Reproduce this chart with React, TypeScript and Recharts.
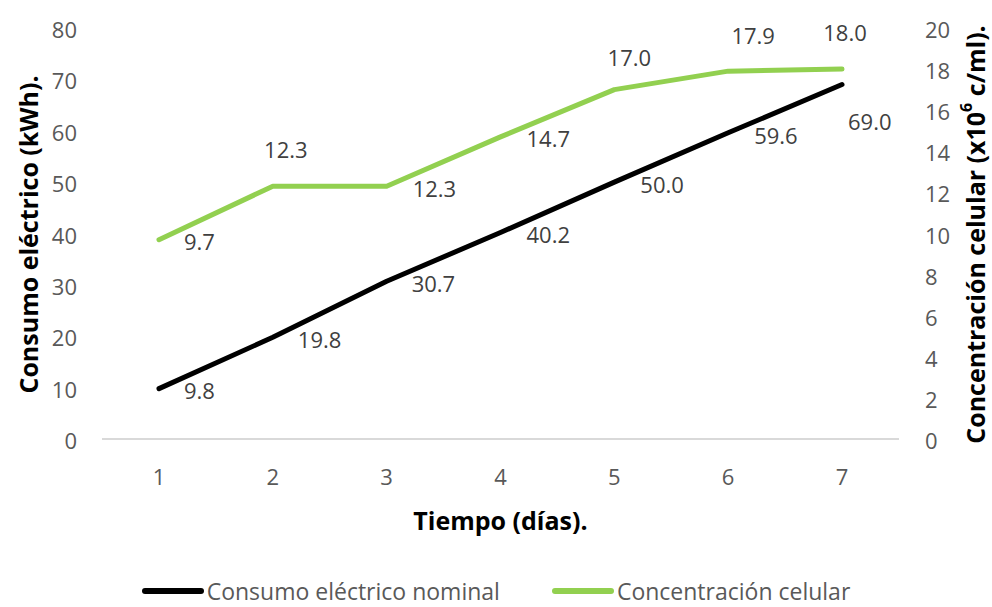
import React from 'react';
import { LineChart, Line, XAxis, YAxis, LabelList } from 'recharts';

const dias = ['1', '2', '3', '4', '5', '6', '7'];
const consumoElectrico = [9.8, 19.8, 30.7, 40.2, 50.0, 59.6, 69.0];
const concentracionCelular = [9.7, 12.3, 12.3, 14.7, 17.0, 17.9, 18.0];
const ticksConsumo = [0, 10, 20, 30, 40, 50, 60, 70, 80];
const ticksConcentracion = [0, 2, 4, 6, 8, 10, 12, 14, 16, 18, 20];

const data = dias.map((dia, i) => ({
  dia,
  consumo: consumoElectrico[i],
  concentracion: concentracionCelular[i],
}));

// label placement per point: [dx, dy, anchor]
type Placement = [number, number, 'start' | 'middle'];
const consumoPlacement: Placement[] = [
  [25, 1, 'start'], [25, 2, 'start'], [25, 2, 'start'], [26, 2, 'start'],
  [26, 2, 'start'], [26, 2, 'start'], [6, 36, 'start'],
];
const concentracionPlacement: Placement[] = [
  [25, 1, 'start'], [13, -37, 'middle'], [26, 2, 'start'], [26, 1, 'start'],
  [15, -33, 'middle'], [25, -36, 'middle'], [3, -37, 'middle'],
];

const FONT = '"Open Sans", sans-serif';
const TICK_COLOR = '#595959';
const LABEL_COLOR = '#404040';
const GREEN = '#92D050';

const makeLabel = (placement: Placement[]) => (props: any) => {
  const { x, y, value, index } = props;
  const [dx, dy, anchor] = placement[index];
  return (
    <text
      x={x + dx}
      y={y + dy}
      textAnchor={anchor}
      dominantBaseline="central"
      fontFamily={FONT}
      fontSize={22}
      fill={LABEL_COLOR}
    >
      {Number(value).toFixed(1)}
    </text>
  );
};

const LeftTick = ({ x, y, payload }: any) => (
  <text x={x - 25} y={y + 1} textAnchor="end" dominantBaseline="central" fontFamily={FONT} fontSize={22} fill={TICK_COLOR}>
    {payload.value}
  </text>
);

const RightTick = ({ x, y, payload }: any) => (
  <text x={x + 26} y={y + 1} textAnchor="start" dominantBaseline="central" fontFamily={FONT} fontSize={22} fill={TICK_COLOR}>
    {payload.value}
  </text>
);

const BottomTick = ({ x, y, payload }: any) => (
  <text x={x} y={y + 37} textAnchor="middle" dominantBaseline="central" fontFamily={FONT} fontSize={22} fill={TICK_COLOR}>
    {payload.value}
  </text>
);

const LeftTitle = ({ viewBox }: any) => {
  const cx = viewBox.x + 28;
  const cy = viewBox.y + viewBox.height / 2 + 1;
  return (
    <text x={cx} y={cy} transform={`rotate(-90 ${cx} ${cy})`} textAnchor="middle" dominantBaseline="central"
      fontFamily={FONT} fontSize={25} fontWeight="bold" fill="#000">
      Consumo eléctrico (kWh).
    </text>
  );
};

const RightTitle = ({ viewBox }: any) => {
  const cx = viewBox.x + 76;
  const cy = viewBox.y + viewBox.height / 2 + 1;
  return (
    <text x={cx} y={cy} transform={`rotate(-90 ${cx} ${cy})`} textAnchor="middle" dominantBaseline="central"
      fontFamily={FONT} fontSize={25} fontWeight="bold" fill="#000">
      Concentración celular (x10
      <tspan fontSize={16} dy={-9}>6</tspan>
      <tspan dy={9}> c/ml).</tspan>
    </text>
  );
};

const BottomTitle = ({ viewBox }: any) => (
  <text x={viewBox.x + viewBox.width / 2} y={viewBox.y + 81} textAnchor="middle" dominantBaseline="central"
    fontFamily={FONT} fontSize={25} fontWeight="bold" fill="#000">
    Tiempo (días).
  </text>
);

const legendItems = [
  { name: 'Consumo eléctrico nominal', color: '#000000' },
  { name: 'Concentración celular', color: GREEN },
];

export default function App() {
  return (
    <div style={{ position: 'absolute', left: 0, top: 0, width: 992, height: 607, background: '#fff', overflow: 'hidden' }}>
      <LineChart width={992} height={607} data={data} margin={{ top: 28, right: 0, bottom: 0, left: 0 }}>
        <XAxis
          dataKey="dia"
          height={168}
          padding={{ left: 57, right: 57 }}
          tickSize={0}
          tickMargin={0}
          tick={<BottomTick />}
          axisLine={{ stroke: '#d9d9d9', strokeWidth: 2 }}
          label={<BottomTitle />}
        />
        <YAxis
          yAxisId="left"
          width={102}
          domain={[0, 80]}
          ticks={ticksConsumo}
          tickSize={0}
          tickMargin={0}
          axisLine={false}
          tick={<LeftTick />}
          label={<LeftTitle />}
        />
        <YAxis
          yAxisId="right"
          orientation="right"
          width={93}
          domain={[0, 20]}
          ticks={ticksConcentracion}
          tickSize={0}
          tickMargin={0}
          axisLine={false}
          tick={<RightTick />}
          label={<RightTitle />}
        />
        <Line
          yAxisId="left"
          dataKey="consumo"
          type="linear"
          stroke="#000000"
          strokeWidth={5}
          strokeLinecap="round"
          strokeLinejoin="round"
          dot={false}
          isAnimationActive={false}
        >
          <LabelList dataKey="consumo" content={makeLabel(consumoPlacement)} />
        </Line>
        <Line
          yAxisId="right"
          dataKey="concentracion"
          type="linear"
          stroke={GREEN}
          strokeWidth={5}
          strokeLinecap="round"
          strokeLinejoin="round"
          dot={false}
          isAnimationActive={false}
        >
          <LabelList dataKey="concentracion" content={makeLabel(concentracionPlacement)} />
        </Line>
      </LineChart>
      <div style={{ position: 'absolute', top: 577, left: 0, width: 992, height: 28, display: 'flex', justifyContent: 'center', alignItems: 'center', gap: 52, fontFamily: FONT, fontSize: 23, lineHeight: '28px', color: TICK_COLOR }}>
        {legendItems.map((item) => (
          <div key={item.name} style={{ display: 'flex', alignItems: 'center', gap: 3 }}>
            <div style={{ width: 62, height: 6, borderRadius: 3, background: item.color }} />
            <span>{item.name}</span>
          </div>
        ))}
      </div>
    </div>
  );
}
